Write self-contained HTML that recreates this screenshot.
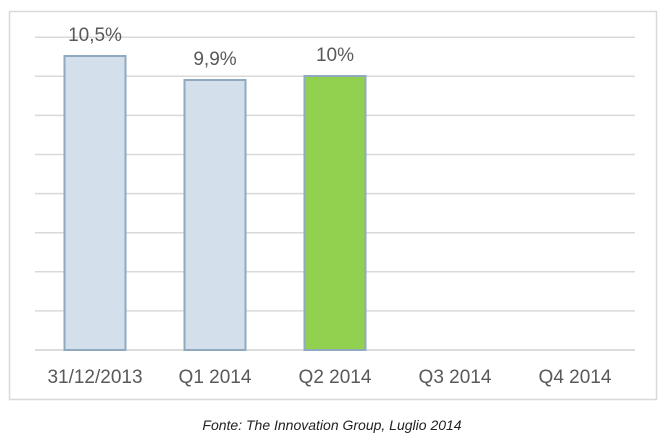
<!DOCTYPE html>
<html><head><meta charset="utf-8"><style>
body{margin:0;background:#fff;width:664px;height:440px;overflow:hidden;font-family:"Liberation Sans",sans-serif}
</style></head><body>
<svg width="664" height="440">
<rect x="9.5" y="11.5" width="647" height="388" fill="#fff" stroke="#d9d9d9" stroke-width="1.5"/>
<g id="grid"></g><g id="bars"></g><g id="labels"></g>
<text x="332" y="430" text-anchor="middle" font-style="italic" font-size="14" fill="#222">Fonte: The Innovation Group, Luglio 2014</text>
</svg>
<script>
const categories=["31/12/2013","Q1 2014","Q2 2014","Q3 2014","Q4 2014"];
const values=[10.5,9.9,10,null,null];
const valueLabels=["10,5%","9,9%","10%","",""];
const highlight=[false,false,true,false,false];
const NS="http://www.w3.org/2000/svg";
const base=350,pxPer=40,vMin=3.15,x0=35,step=120;
const y=v=>base-(v-vMin)*pxPer;
const xc=i=>x0+step*(i+0.5);
const g=document.getElementById('grid'),b=document.getElementById('bars'),l=document.getElementById('labels');
function mk(t,a,p){const e=document.createElementNS(NS,t);for(const k in a)e.setAttribute(k,a[k]);p.appendChild(e);return e;}
for(let k=0;k<9;k++){const gy=base-k*39.1;
const ln=mk('line',{x1:35,x2:635,y1:gy,y2:gy,stroke:k==0?'#d0d0d0':'#d9d9d9','stroke-width':1.5},g);

}
categories.forEach((c,i)=>{
const t=mk('text',{x:xc(i),y:383,'text-anchor':'middle','font-size':19,fill:'#595959'},l);t.textContent=c;


const v=values[i];if(v==null)return;
const r=mk('rect',{x:xc(i)-30.5,y:y(v),width:61,height:base-y(v),fill:highlight[i]?'#92d050':'#d3e0ec',stroke:'#8faabf','stroke-width':2},b);


const vt=mk('text',{x:xc(i),y:y(v)-15,'text-anchor':'middle','font-size':19,fill:'#595959'},l);vt.textContent=valueLabels[i];


});
</script>
</body></html>
